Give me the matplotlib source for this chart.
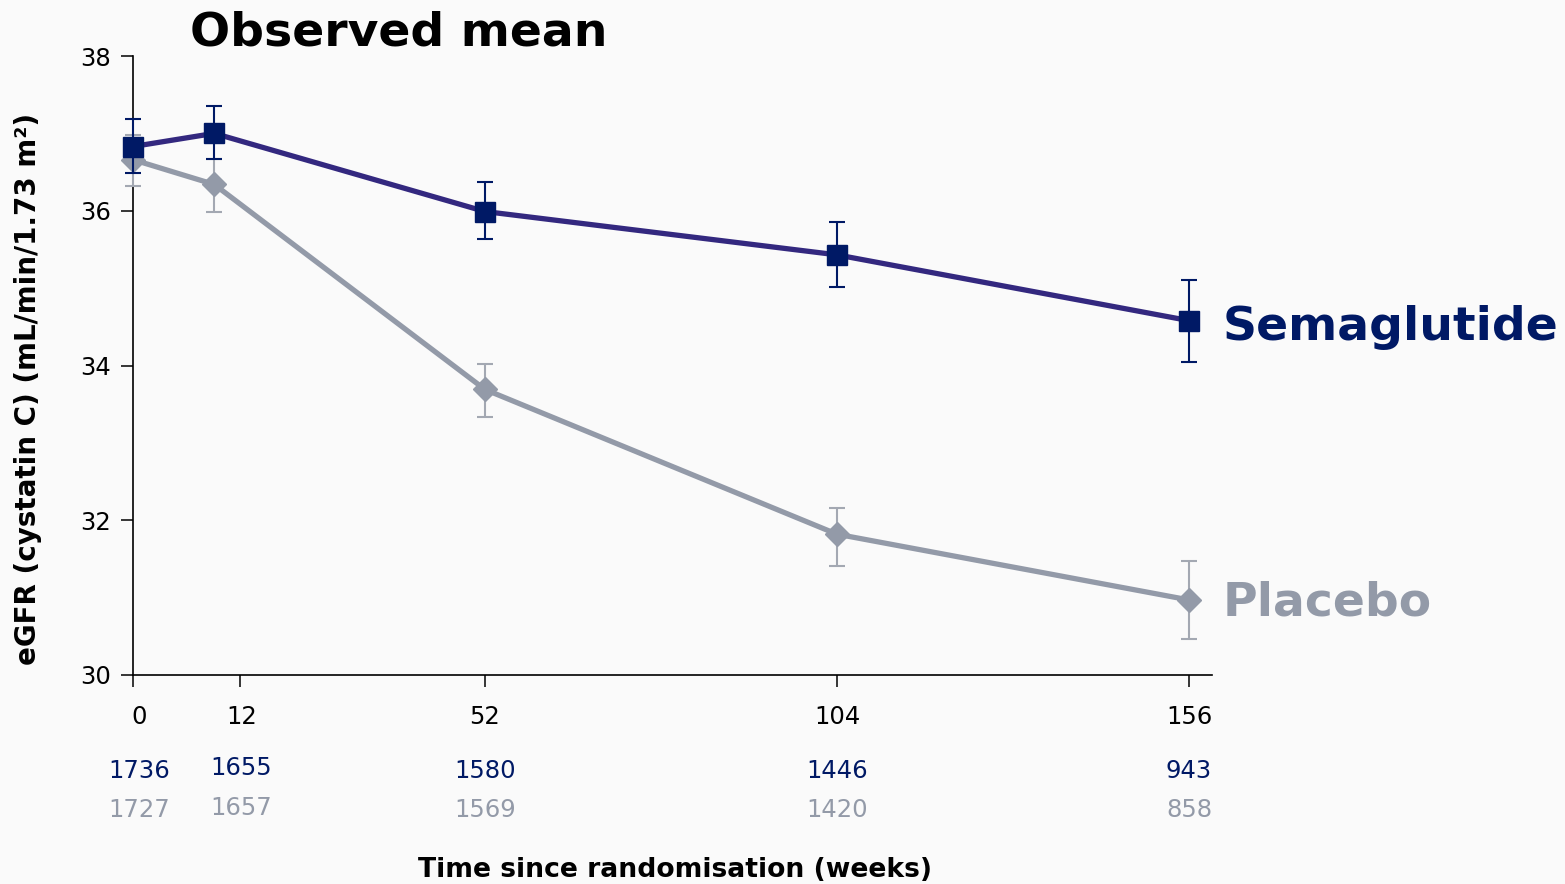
import matplotlib

matplotlib.use("Agg")
import matplotlib.pyplot as plt
import matplotlib.transforms as mtransforms

# data
weeks = [0, 12, 52, 104, 156]
tick_labels = ["0", "12", "52", "104", "156"]

sema_mean = [36.83, 37.00, 35.99, 35.43, 34.58]
sema_lo = [36.49, 36.67, 35.63, 35.01, 34.04]
sema_hi = [37.19, 37.36, 36.37, 35.85, 35.10]

plac_mean = [36.66, 36.34, 33.69, 31.82, 30.97]
plac_lo = [36.32, 35.99, 33.34, 31.41, 30.46]
plac_hi = [36.98, 36.67, 34.02, 32.16, 31.47]

sema_n = ["1736", "1655", "1580", "1446", "943"]
plac_n = ["1727", "1657", "1569", "1420", "858"]

NAVY = "#001965"
NAVY_LINE = "#33287f"
GREY = "#939aa8"
GREY_BAR = "#a3a8b2"
BG = "#fafafa"

plt.rcParams["font.family"] = ["DejaVu Sans"]

W, H = 1565, 884
fig = plt.figure(figsize=(W / 100, H / 100), dpi=100, facecolor=BG)
ax = fig.add_axes([133 / W, 1 - 675 / H, (1212 - 133) / W, (675 - 56) / H])
ax.set_facecolor(BG)


def errs(mean, lo, hi):
    return [[m - l for m, l in zip(mean, lo)], [h - m for m, h in zip(mean, hi)]]


# placebo first so semaglutide sits on top
ax.plot(weeks, plac_mean, color=GREY, lw=3.8, zorder=2)
ax.errorbar(weeks, plac_mean, yerr=errs(plac_mean, plac_lo, plac_hi), fmt="D",
            color=GREY, ms=12, ecolor=GREY_BAR, elinewidth=1.5, capsize=5.5,
            capthick=1.5, zorder=3, clip_on=False)
ax.plot(weeks, sema_mean, color=NAVY_LINE, lw=3.8, zorder=4)
ax.errorbar(weeks, sema_mean, yerr=errs(sema_mean, sema_lo, sema_hi), fmt="s",
            color=NAVY, ms=15, ecolor=NAVY, elinewidth=1.5, capsize=5.5,
            capthick=1.5, zorder=5, clip_on=False)

ax.set_xlim(0, 159.4)
ax.set_ylim(30, 38)
ax.set_yticks([30, 32, 34, 36, 38])
# tick "12" is drawn a bit right of week 12 in the original
ax.set_xticks([0, 15.8, 52, 104, 156])
ax.set_xticklabels([])
for s in ["top", "right"]:
    ax.spines[s].set_visible(False)
for s in ["left", "bottom"]:
    ax.spines[s].set_linewidth(1.2)
ax.tick_params(axis="both", direction="out", length=8.6, width=1.1, labelsize=17.5)
ax.tick_params(axis="y", pad=7)

# tick labels and numbers at risk
trans = mtransforms.blended_transform_factory(ax.transData, fig.transFigure)
lab_x = [0.9, 16.0, 52, 104, 156]
tick_y = [717, 717, 717, 717, 717]
sema_y = [771, 768, 771, 771, 771]
plac_y = [810, 808, 810, 810, 810]
for x, t, y in zip(lab_x, tick_labels, tick_y):
    ax.text(x, 1 - y / H, t, transform=trans, ha="center", va="center",
            fontsize=17.5, color="black", clip_on=False)
for x, n, y in zip(lab_x, sema_n, sema_y):
    ax.text(x, 1 - y / H, n, transform=trans, ha="center", va="center",
            fontsize=17.5, color=NAVY, clip_on=False)
for x, n, y in zip(lab_x, plac_n, plac_y):
    ax.text(x, 1 - y / H, n, transform=trans, ha="center", va="center",
            fontsize=17.5, color=GREY, clip_on=False)

fig.text(190 / W, 1 - 45 / H, "Observed mean", fontsize=34, fontweight="bold",
         ha="left", va="baseline")
fig.text(1223 / W, 1 - 340 / H, "Semaglutide", fontsize=34, fontweight="bold",
         color=NAVY, ha="left", va="baseline")
fig.text(1223 / W, 1 - 615 / H, "Placebo", fontsize=34, fontweight="bold",
         color=GREY, ha="left", va="baseline")
fig.text(675 / W, 1 - 877 / H, "Time since randomisation (weeks)", fontsize=19.2,
         fontweight="bold", ha="center", va="baseline")
fig.text(28 / W, 1 - 389 / H, "eGFR (cystatin C) (mL/min/1.73 m²)", fontsize=20,
         fontweight="bold", rotation=90, ha="center", va="center")

fig.savefig("out.png", dpi=100, facecolor=BG)
